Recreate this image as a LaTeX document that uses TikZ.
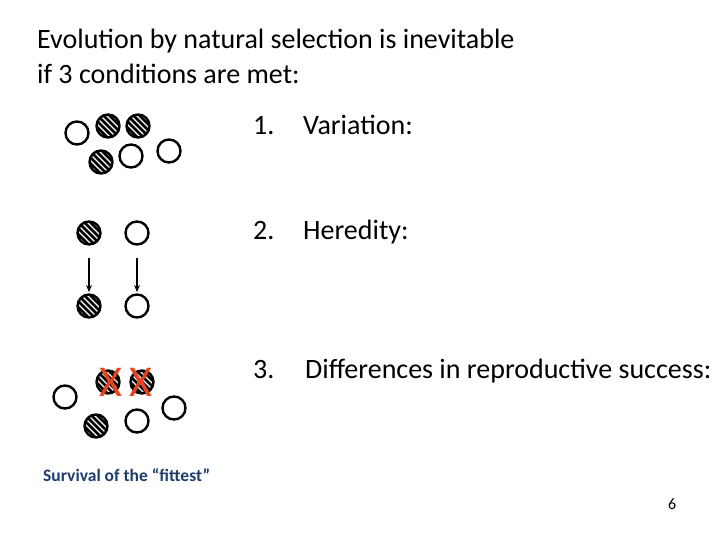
\documentclass[tikz,border=0pt]{standalone}
\usepackage{fontspec}
\setmainfont{Carlito}
\usetikzlibrary{calc,arrows.meta}
\definecolor{xred}{HTML}{E8431C}
\definecolor{navy}{HTML}{1F3C6E}
\begin{document}
\begin{tikzpicture}[x=1pt,y=-1pt,
  ring/.style={circle,draw=black,line width=2.4pt,minimum size=23pt,inner sep=0pt},
  txt/.style={anchor=base west,inner sep=0pt,font=\fontsize{28}{32}\selectfont},
  arr/.style={-{Stealth[length=7pt,width=6pt]},line width=1.2pt},
  xm/.style={text=xred,font=\fontsize{44}{44}\selectfont,inner sep=0pt}]
\useasboundingbox (0,0) rectangle (720,540);
\newcommand{\hcirc}[1]{%
  \begin{scope}
  \clip (#1) circle (11.5pt);
  \foreach \d in {-18,-12,...,18} {\draw[line width=2.6pt] ($(#1)+(\d-15,-15)$) -- ($(#1)+(\d+15,15)$);}
  \end{scope}
  \node[ring] at (#1) {};}
% row 1
\node[ring] (a1) at (77,133) {};
\coordinate (a2) at (108,126); \hcirc{a2}
\coordinate (a3) at (138,126); \hcirc{a3}
\coordinate (a4) at (101,162); \hcirc{a4}
\node[ring] (a5) at (131,156) {};
\node[ring] (a6) at (169,151) {};
% row 2
\coordinate (b1) at (89,233); \hcirc{b1}
\node[ring] (b2) at (137,233) {};
\coordinate (b3) at (89,306); \hcirc{b3}
\node[ring] (b4) at (137,306) {};
\coordinate (b1s) at (89,258); \coordinate (b1e) at (89,292);
\coordinate (b2s) at (137,258); \coordinate (b2e) at (137,292);
\draw[arr] (b1s) -- (b1e);
\draw[arr] (b2s) -- (b2e);
% row 3
\node[ring] (c1) at (65,397) {};
\coordinate (c2) at (108,382); \hcirc{c2}
\coordinate (c3) at (142,382); \hcirc{c3}
\node[ring] (c4) at (174,408) {};
\coordinate (c5) at (96,426); \hcirc{c5}
\node[ring] (c6) at (137,421) {};
\node[xm] (x1) at (111,382) {X};
\node[xm] (x2) at (141,382) {X};
% text
\node[txt] (t1) at (37,49) {Evolution by natural selection is inevitable};
\node[txt] (t2) at (37,84) {if 3 conditions are met:};
\node[txt] (n1) at (253,135) {1.};
\node[txt] (v1) at (303,135) {Variation:};
\node[txt] (n2) at (253,240) {2.};
\node[txt] (v2) at (303,240) {Heredity:};
\node[txt] (n3) at (253,378) {3.};
\node[txt] (v3) at (305,378) {Differences in reproductive success:};
\node[anchor=base west,inner sep=0pt,text=navy,font=\bfseries\fontsize{17.5}{20}\selectfont] (f) at (43,481) {Survival of the “fittest”};
\node[anchor=base west,inner sep=0pt,font=\fontsize{16}{18}\selectfont] (p) at (668,509) {6};
\end{tikzpicture}
\end{document}
